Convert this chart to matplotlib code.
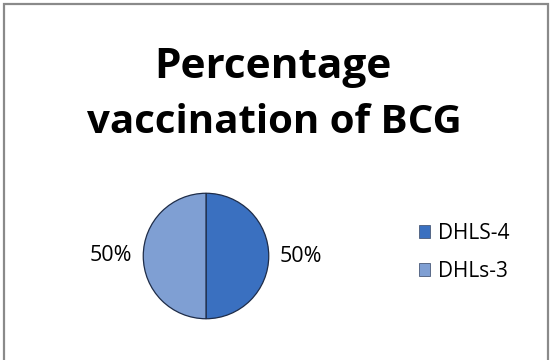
import matplotlib
matplotlib.use("Agg")
import matplotlib.pyplot as plt
from matplotlib.patches import Rectangle, Patch

# Share of BCG vaccination by group
groups = ["DHLS-4", "DHLs-3"]
shares = [50, 50]
colors = ["#3a70c0", "#7f9fd3"]

title_lines = ["Percentage", "vaccination of BCG"]

W, H = 550, 360
fig = plt.figure(figsize=(W / 100, H / 100), dpi=100)
fig.patch.set_facecolor("white")

# Chart frame
fig.add_artist(Rectangle((4 / W, -0.01), 544 / W, 1 - 4 / H + 0.01,
                         transform=fig.transFigure, fill=False,
                         edgecolor="#8a8a8a", linewidth=1.6))

# Title (two lines)
fig.text(273 / W, 1 - 78 / H, title_lines[0], ha="center", va="baseline",
         fontsize=30.5, fontweight="bold", family="Open Sans", color="black")
fig.text(274 / W, 1 - 133 / H, title_lines[1], ha="center", va="baseline",
         fontsize=29, fontweight="bold", family="Open Sans", color="black")

# Pie
ax = fig.add_axes([142 / W, 1 - 320 / H, 128 / W, 128 / H])
wedges, _, pct = ax.pie(shares, colors=colors, startangle=90, counterclock=False,
                        autopct=lambda p: f"{p:.0f}%", pctdistance=1.52,
                        wedgeprops=dict(edgecolor="#1e2c48", linewidth=0.9))
for t in pct:
    t.set_fontsize(15.5)
    t.set_family("Open Sans")
    t.set_color("black")
ax.set_xlim(-1.02, 1.02)
ax.set_ylim(-1.02, 1.02)
ax.set_aspect("equal")
ax.axis("off")

# Legend
handles = [Patch(facecolor=c, edgecolor="#4a5a78", linewidth=0.6) for c in colors]
leg = fig.legend(handles, groups, loc="upper left",
                 bbox_to_anchor=(400 / W, 1 - 204 / H), frameon=False,
                 prop=dict(family="Open Sans", size=15),
                 handlelength=0.55, handleheight=0.55, handletextpad=0.35,
                 labelspacing=0.82)

fig.savefig("out.png", dpi=100)
